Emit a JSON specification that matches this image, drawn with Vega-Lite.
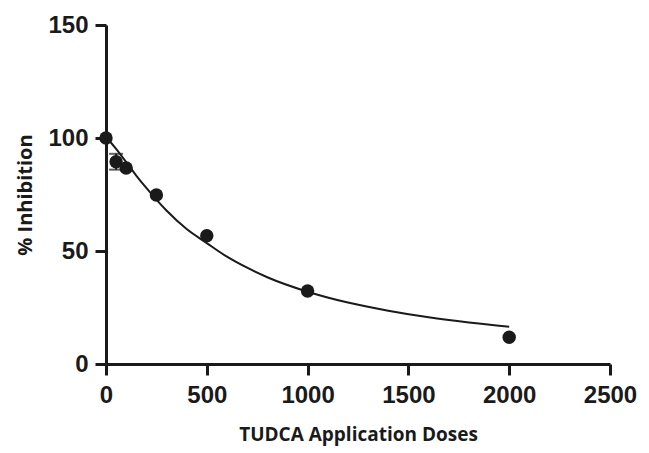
{
  "$schema": "https://vega.github.io/schema/vega-lite/v6.json",
  "width": 504,
  "height": 339,
  "autosize": {"type": "none"},
  "padding": {"left": 106, "top": 25, "right": 39, "bottom": 89},
  "background": "white",
  "config": {
    "view": {"stroke": null},
    "axis": {
      "grid": false,
      "domainColor": "#1a1a1a",
      "domainWidth": 3,
      "tickColor": "#1a1a1a",
      "tickWidth": 3,
      "tickSize": 11,
      "labelFlush": false,
      "labelOverlap": false,
      "format": "d",
      "labelFont": "Liberation Sans",
      "labelFontWeight": "bold",
      "labelFontSize": 24,
      "labelColor": "#1a1a1a",
      "titleFont": "Open Sans",
      "titleFontWeight": "bold",
      "titleFontSize": 19,
      "titleColor": "#1a1a1a"
    }
  },
  "datasets": {
    "points": [
      {"dose": 0, "inhibition": 100},
      {"dose": 50, "inhibition": 89.5},
      {"dose": 100, "inhibition": 86.7},
      {"dose": 250, "inhibition": 74.8},
      {"dose": 500, "inhibition": 56.8},
      {"dose": 1000, "inhibition": 32.3},
      {"dose": 2000, "inhibition": 11.8}
    ],
    "errors": [
      {"dose": 50, "low": 86, "high": 93}
    ],
    "curve": [
      {"dose": 0, "fit": 100},
      {"dose": 25, "fit": 97.9},
      {"dose": 50, "fit": 95.2},
      {"dose": 100, "fit": 89.3},
      {"dose": 150, "fit": 83.4},
      {"dose": 200, "fit": 77.9},
      {"dose": 250, "fit": 72.7},
      {"dose": 300, "fit": 67.9},
      {"dose": 400, "fit": 59.7},
      {"dose": 500, "fit": 53.5},
      {"dose": 600, "fit": 47.5},
      {"dose": 700, "fit": 42.6},
      {"dose": 800, "fit": 38.4},
      {"dose": 1000, "fit": 32.0},
      {"dose": 1200, "fit": 27.2},
      {"dose": 1400, "fit": 23.6},
      {"dose": 1600, "fit": 20.7},
      {"dose": 1800, "fit": 18.4},
      {"dose": 2000, "fit": 16.5}
    ]
  },
  "layer": [
    {
      "data": {"name": "curve"},
      "mark": {"type": "line", "interpolate": "monotone", "color": "#1a1a1a", "strokeWidth": 2},
      "encoding": {
        "x": {
          "field": "dose", "type": "quantitative",
          "scale": {"domain": [0, 2500], "nice": false},
          "axis": {"values": [0, 500, 1000, 1500, 2000, 2500], "title": "TUDCA Application Doses", "labelPadding": 8, "titlePadding": 18}
        },
        "y": {
          "field": "fit", "type": "quantitative",
          "scale": {"domain": [0, 150], "nice": false},
          "axis": {"values": [0, 50, 100, 150], "title": "% Inhibition", "labelPadding": 7, "titlePadding": 12, "titleFontSize": 20}
        }
      }
    },
    {
      "data": {"name": "errors"},
      "mark": {"type": "rule", "color": "#1a1a1a", "strokeWidth": 2},
      "encoding": {
        "x": {"field": "dose", "type": "quantitative"},
        "y": {"field": "low", "type": "quantitative"},
        "y2": {"field": "high"}
      }
    },
    {
      "data": {"name": "errors"},
      "mark": {"type": "tick", "color": "#1a1a1a", "thickness": 2, "size": 14, "orient": "horizontal"},
      "encoding": {
        "x": {"field": "dose", "type": "quantitative"},
        "y": {"field": "low", "type": "quantitative"}
      }
    },
    {
      "data": {"name": "errors"},
      "mark": {"type": "tick", "color": "#1a1a1a", "thickness": 2, "size": 14, "orient": "horizontal"},
      "encoding": {
        "x": {"field": "dose", "type": "quantitative"},
        "y": {"field": "high", "type": "quantitative"}
      }
    },
    {
      "data": {"name": "points"},
      "mark": {"type": "point", "shape": "circle", "filled": true, "color": "#1a1a1a", "opacity": 1, "size": 180},
      "encoding": {
        "x": {"field": "dose", "type": "quantitative"},
        "y": {"field": "inhibition", "type": "quantitative"}
      }
    }
  ]
}
